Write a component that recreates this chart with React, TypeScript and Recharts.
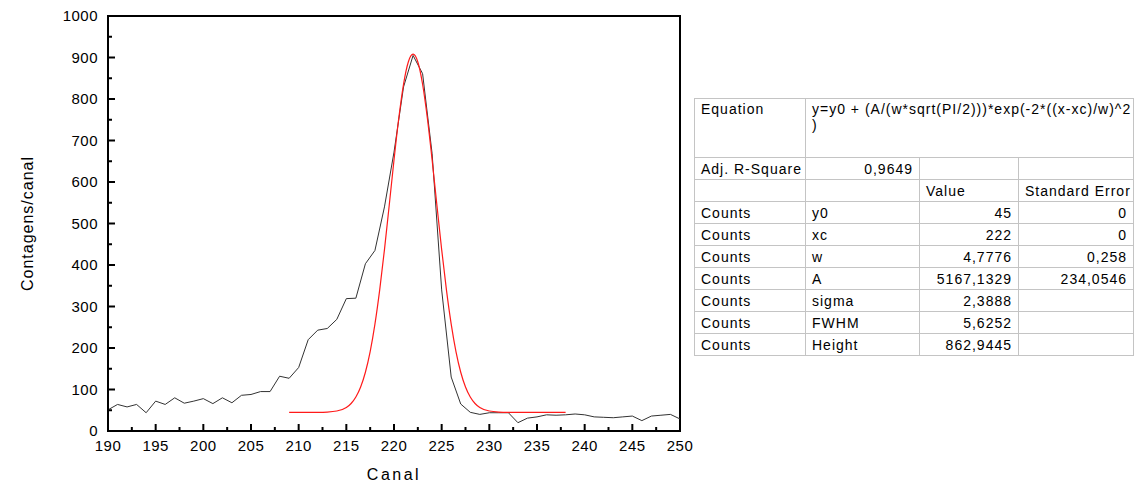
import { LineChart, Line, XAxis, YAxis, ReferenceArea } from "recharts";

// measured spectrum (counts per channel)
const channels = [
  190, 191, 192, 193, 194, 195, 196, 197, 198, 199, 200, 201, 202, 203, 204, 205,
  206, 207, 208, 209, 210, 211, 212, 213, 214, 215, 216, 217, 218, 219, 220, 221,
  222, 223, 224, 225, 226, 227, 228, 229, 230, 231, 232, 233, 234, 235, 236, 237,
  238, 239, 240, 241, 242, 243, 244, 245, 246, 247, 248, 249, 250,
];
const counts = [
  51, 64, 58, 64, 44, 72, 64, 80, 67, 72, 78, 66, 80, 68, 86, 88,
  95, 95, 132, 127, 153, 220, 243, 247, 269, 319, 320, 403, 435, 540, 672, 829,
  905, 861, 668, 340, 130, 65, 45, 40, 44, 44, 44, 20, 31, 34, 39, 38,
  39, 41, 39, 34, 33, 32, 34, 36, 25, 36, 38, 40, 29,
];

// gaussian fit curve
const fitChannels = [
  209, 210, 211, 212, 213, 214, 215, 215.5, 216, 216.5, 217, 217.5, 218, 218.5,
  219, 219.5, 220, 220.5, 221, 221.5, 222, 222.5, 223, 223.5, 224, 224.5, 225,
  225.5, 226, 226.5, 227, 227.5, 228, 228.5, 229, 230, 231, 232, 233, 234, 235,
  236, 237, 238,
];
const fitCounts = [
  45, 45, 45, 45.1, 45.7, 48.2, 56.8, 66.3, 81.8, 106, 141.6, 191.4, 257.5, 340,
  437.2, 544, 652.9, 753.5, 835.5, 889.2, 907.9, 889.2, 835.5, 753.5, 652.9, 544, 437.2,
  340, 257.5, 191.4, 141.6, 106, 81.8, 66.3, 56.8, 48.2, 45.7, 45.1, 45, 45, 45,
  45, 45, 45,
];

const xTicks = [
  190, 192.5, 195, 197.5, 200, 202.5, 205, 207.5, 210, 212.5, 215, 217.5, 220,
  222.5, 225, 227.5, 230, 232.5, 235, 237.5, 240, 242.5, 245, 247.5, 250,
];
const yTicks = [
  0, 50, 100, 150, 200, 250, 300, 350, 400, 450, 500, 550, 600, 650, 700, 750,
  800, 850, 900, 950, 1000,
];

// fit results table
const equationText = "y=y0 + (A/(w*sqrt(PI/2)))*exp(-2*((x-xc)/w)^2";
const adjRSquare = "0,9649";
const paramNames = ["y0", "xc", "w", "A", "sigma", "FWHM", "Height"];
const paramValues = ["45", "222", "4,7776", "5167,1329", "2,3888", "5,6252", "862,9445"];
const paramErrors = ["0", "0", "0,258", "234,0546", "", "", ""];

const measured = channels.map((ch, i) => ({ ch, v: counts[i] }));
const fitted = fitChannels.map((ch, i) => ({ ch, v: fitCounts[i] }));

const FONT = "'Liberation Sans', Arial, sans-serif";

function XTick(props: any) {
  const { x, y, payload } = props;
  const major = payload.value % 5 === 0;
  return (
    <g>
      <line x1={x} x2={x} y1={y} y2={y - (major ? 7 : 4)} stroke="#000" strokeWidth={2} />
      {major && (
        <text x={x} y={y + 20} textAnchor="middle" fontSize={15} fontFamily={FONT} fill="#000" letterSpacing={0.5}>
          {payload.value}
        </text>
      )}
    </g>
  );
}

function YTick(props: any) {
  const { x, y, payload } = props;
  const major = payload.value % 100 === 0;
  return (
    <g>
      <line x1={x} x2={x + (major ? 7 : 4)} y1={y} y2={y} stroke="#000" strokeWidth={2} />
      {major && (
        <text x={x - 10} y={y + 5} textAnchor="end" fontSize={15} fontFamily={FONT} fill="#000" letterSpacing={0.5}>
          {payload.value}
        </text>
      )}
    </g>
  );
}

const cell: React.CSSProperties = {
  border: "1px solid #c4c4c4",
  padding: "0 6px",
  height: 21,
  whiteSpace: "nowrap",
  overflow: "hidden",
};
const num: React.CSSProperties = { ...cell, textAlign: "right" };

export default function App() {
  return (
    <div style={{ position: "absolute", left: 0, top: 0, width: 1134, height: 486, background: "#fff" }}>
      <LineChart width={700} height={486} margin={{ top: 16, right: 20, left: 0, bottom: 0 }}>
        <XAxis
          type="number"
          dataKey="ch"
          domain={[190, 250]}
          ticks={xTicks}
          interval={0}
          tickSize={0}
          tickMargin={0}
          height={55}
          tick={(p: any) => <XTick {...p} />}
          axisLine={{ stroke: "#000", strokeWidth: 2 }}
          label={{
            value: "Canal",
            position: "insideBottom",
            offset: 6,
            style: { fontSize: 16, fontFamily: FONT, fill: "#000", letterSpacing: 2.5 },
          }}
        />
        <YAxis
          type="number"
          domain={[0, 1000]}
          ticks={yTicks}
          interval={0}
          tickSize={0}
          tickMargin={0}
          width={108}
          tick={(p: any) => <YTick {...p} />}
          axisLine={{ stroke: "#000", strokeWidth: 2 }}
          label={{
            value: "Contagens/canal",
            angle: -90,
            position: "insideLeft",
            offset: 27,
            style: { textAnchor: "middle", fontSize: 16, fontFamily: FONT, fill: "#000", letterSpacing: 1 },
          }}
        />
        <ReferenceArea x1={190} x2={250} y1={0} y2={1000} fill="#fff" fillOpacity={0} stroke="#000" strokeWidth={2} ifOverflow="visible" />
        <Line data={measured} dataKey="v" type="linear" stroke="#333" strokeWidth={1} dot={false} isAnimationActive={false} />
        <Line data={fitted} dataKey="v" type="monotone" stroke="#ff1a1a" strokeWidth={1.2} dot={false} isAnimationActive={false} />
      </LineChart>
      <table
        style={{
          position: "absolute",
          left: 694,
          top: 98,
          width: 439,
          borderCollapse: "collapse",
          tableLayout: "fixed",
          fontFamily: FONT,
          fontSize: 14,
          letterSpacing: 1,
          color: "#000",
          border: "1px solid #888",
        }}
      >
        <colgroup>
          <col style={{ width: 111 }} />
          <col style={{ width: 114 }} />
          <col style={{ width: 99 }} />
          <col style={{ width: 115 }} />
        </colgroup>
        <tbody>
          <tr>
            <td style={{ ...cell, height: 56, verticalAlign: "top", paddingTop: 2 }}>Equation</td>
            <td colSpan={3} style={{ ...cell, height: 56, verticalAlign: "top", paddingTop: 2, lineHeight: "16px" }}>
              {equationText}
              <br />)
            </td>
          </tr>
          <tr>
            <td style={cell}>Adj. R-Square</td>
            <td style={num}>{adjRSquare}</td>
            <td style={cell}></td>
            <td style={cell}></td>
          </tr>
          <tr>
            <td style={cell}></td>
            <td style={cell}></td>
            <td style={cell}>Value</td>
            <td style={cell}>Standard Error</td>
          </tr>
          {paramNames.map((name, i) => (
            <tr key={name}>
              <td style={cell}>Counts</td>
              <td style={cell}>{name}</td>
              <td style={num}>{paramValues[i]}</td>
              <td style={num}>{paramErrors[i]}</td>
            </tr>
          ))}
        </tbody>
      </table>
    </div>
  );
}
